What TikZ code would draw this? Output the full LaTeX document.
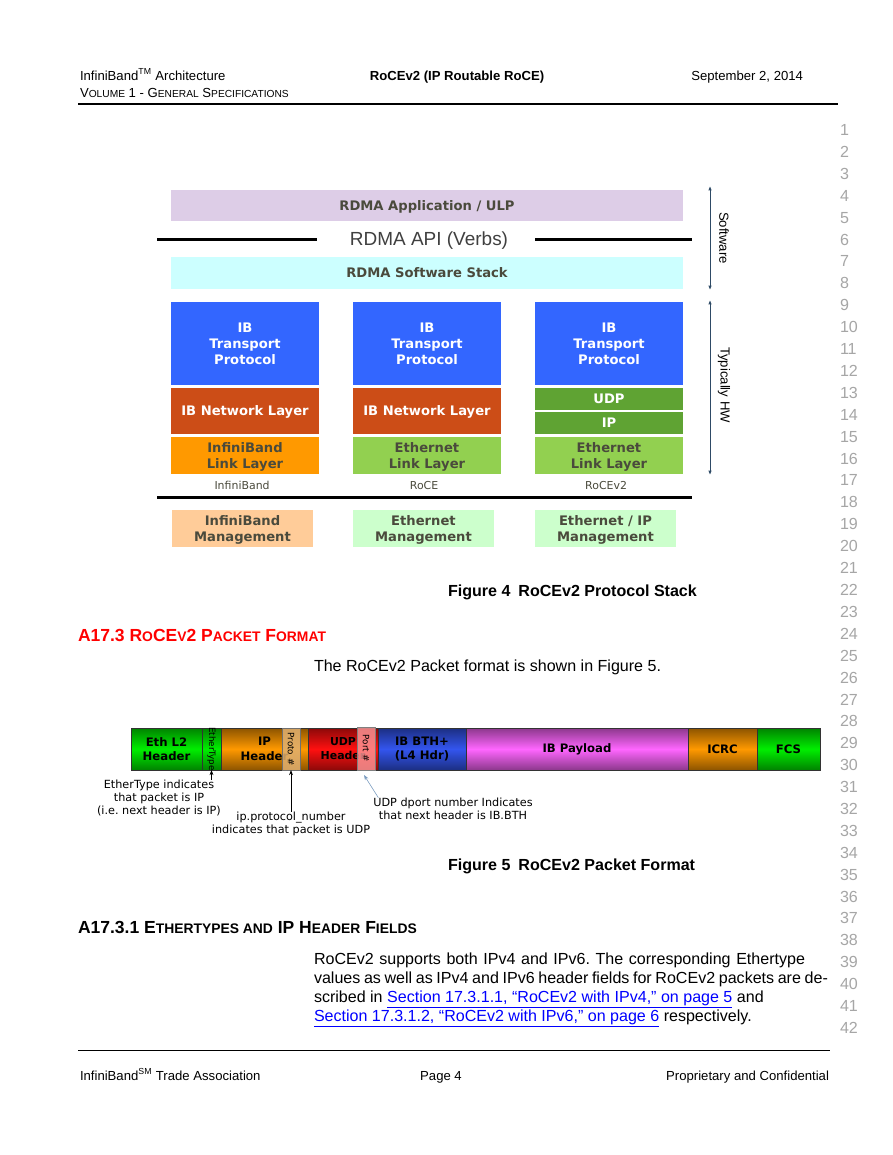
\documentclass[tikz,border=0pt]{standalone}
\usepackage{fontspec}
\setmainfont{Liberation Sans}
\newfontfamily\verdana{DejaVu Sans}
\usetikzlibrary{positioning,arrows.meta}
\frenchspacing

\newcommand\pxu{0.6853pt}
\newcommand\smc[2]{{\fontsize{#1}{#1}\selectfont #2}}

\definecolor{appviolet}{HTML}{DDCDE7}
\definecolor{swcyan}{HTML}{CCFFFF}
\definecolor{ibblue}{HTML}{3366FF}
\definecolor{netrust}{HTML}{CC4D17}
\definecolor{ipgreen}{HTML}{5FA333}
\definecolor{ethgreen}{HTML}{92D050}
\definecolor{iborange}{HTML}{FF9900}
\definecolor{mgmtpeach}{HTML}{FFCC99}
\definecolor{mgmtgreen}{HTML}{CCFFCC}
\definecolor{labelgray}{HTML}{4A4A3C}
\definecolor{apigray}{HTML}{404040}
\definecolor{spanblue}{HTML}{2E4A66}
\definecolor{fieldedge}{HTML}{333333}
\definecolor{pkgreen}{HTML}{00EE00}
\definecolor{pkorange}{HTML}{FF9900}
\definecolor{pkred}{HTML}{FF1010}
\definecolor{pkblue}{HTML}{3355EE}
\definecolor{pkmagenta}{HTML}{FF66FF}
\definecolor{prototan}{HTML}{E0B070}
\definecolor{portpink}{HTML}{FF9999}
\definecolor{udpnoteblue}{HTML}{7A9CC0}
\definecolor{lnogray}{HTML}{A6A6A6}
\definecolor{headred}{HTML}{FF0000}
\definecolor{linkblue}{HTML}{0000FF}

\begin{document}
\begin{tikzpicture}[x=\pxu, y=-\pxu,
  every node/.style={inner sep=0pt, outer sep=0pt},
  boxsize/.style 2 args={minimum width=#1*\pxu, minimum height=#2*\pxu},
  layer/.style={anchor=north west, align=center, text=labelgray, text depth=0pt,
    font=\verdana\bfseries\fontsize{9}{11}\selectfont},
  hwlayer/.style={layer, text=white},
  stacklabel/.style={font=\verdana\fontsize{7.5}{9}\selectfont, text=labelgray,
    text height=5.5pt, text depth=1.5pt},
  rulebar/.style={line width=3*\pxu},
  span/.style={draw=spanblue, line width=0.6pt,
    {Latex[length=3pt,width=2.4pt]}-{Latex[length=3pt,width=2.4pt]}},
  spanlabel/.style={rotate=-90, font=\fontsize{9}{11}\selectfont},
  field/.style 2 args={anchor=north west, draw=fieldedge, line width=0.4pt,
    boxsize={#1}{42}, align=center,
    top color=#2!55!black, bottom color=#2!55!black, middle color=#2,
    font=\verdana\bfseries\fontsize{8}{10}\selectfont},
  tag/.style={rotate=-90, font=\verdana\fontsize{6}{7}\selectfont},
  note/.style={align=center, font=\verdana\fontsize{7.7}{8.9}\selectfont},
  notearrow/.style={-{Stealth[length=3.5pt,width=2.6pt]}, line width=0.5pt},
  lineno/.style={anchor=west, text=lnogray, font=\fontsize{11}{13}\selectfont},
  pagetext/.style={anchor=base west, font=\fontsize{9}{11}\selectfont},
  body/.style={anchor=base west, font=\fontsize{11}{13}\selectfont},
  caption/.style={anchor=base west, font=\bfseries\fontsize{11}{13}\selectfont}]

\useasboundingbox (0,0) rectangle (893,1155);
\fill[white] (0,0) rectangle (893,1155);

% running header
\node[pagetext] (hdrtitle) at (80,80) {InfiniBand\textsuperscript{TM} Architecture};
\node[pagetext] (hdrvol) at (80,97) {V\smc{7}{OLUME} 1 - G\smc{7}{ENERAL} S\smc{7}{PECIFICATIONS}};
\node[pagetext, anchor=base, font=\bfseries\fontsize{9}{11}\selectfont] (hdrchap) at (457,80) {RoCEv2 (IP Routable RoCE)};
\node[pagetext, anchor=base east] (hdrdate) at (803,80) {September 2, 2014};
\draw[line width=2*\pxu] (78,104) -- (838,104);

% line numbers
\foreach \n in {1,...,42}
  \node[lineno] (line\n) at (840,{130+(\n-1)*21.9}) {\n};

% Figure 4: protocol stack
\node[layer, boxsize={512}{31}, fill=appviolet] (app) at (171,190) {RDMA Application / ULP};
\node[font=\fontsize{13}{15}\selectfont, text=apigray] (api) at (429,241) {RDMA API (Verbs)};
\draw[rulebar] (157,239) -- (317,239);
\draw[rulebar] (535,239) -- (692,239);
\node[layer, boxsize={512}{32}, fill=swcyan] (sw) at (171,257) {RDMA Software Stack};

\foreach \c/\x in {ib/171, roce/353, rocetwo/535}
  \node[hwlayer, boxsize={148}{83}, fill=ibblue] (\c-tp) at (\x,302) {IB\\Transport\\Protocol};
\node[hwlayer, boxsize={148}{46}, fill=netrust] (ib-net) at (171,388) {IB Network Layer};
\node[hwlayer, boxsize={148}{46}, fill=netrust] (roce-net) at (353,388) {IB Network Layer};
\node[hwlayer, boxsize={148}{22}, fill=ipgreen] (rocetwo-udp) at (535,388) {UDP};
\node[hwlayer, boxsize={148}{22}, fill=ipgreen] (rocetwo-ip) at (535,412) {IP};
\node[layer, boxsize={148}{37}, fill=iborange] (ib-link) at (171,437) {InfiniBand\\Link Layer};
\node[layer, boxsize={148}{37}, fill=ethgreen] (roce-link) at (353,437) {Ethernet\\Link Layer};
\node[layer, boxsize={148}{37}, fill=ethgreen] (rocetwo-link) at (535,437) {Ethernet\\Link Layer};

\node[stacklabel, below=5pt of ib-link, xshift=-2pt] (ib-name) {InfiniBand};
\node[stacklabel, below=5pt of roce-link, xshift=-2pt] (roce-name) {RoCE};
\node[stacklabel, below=5pt of rocetwo-link, xshift=-2pt] (rocetwo-name) {RoCEv2};
\draw[rulebar] (157,497) -- (692,497);

\node[layer, boxsize={141}{37}, fill=mgmtpeach] (ib-mgmt) at (172,510) {InfiniBand\\Management};
\node[layer, boxsize={141}{37}, fill=mgmtgreen] (roce-mgmt) at (353,510) {Ethernet\\Management};
\node[layer, boxsize={141}{37}, fill=mgmtgreen] (rocetwo-mgmt) at (535,510) {Ethernet / IP\\Management};

\coordinate (swtop) at (710,186);
\coordinate (swbot) at (710,290);
\draw[span] (swtop) -- (swbot);
\node[spanlabel] (swlabel) at (724,238) {Software};
\coordinate (hwtop) at (710,300);
\coordinate (hwbot) at (710,475);
\draw[span] (hwtop) -- (hwbot);
\node[spanlabel] (hwlabel) at (724,385) {Typically HW};

\node[caption] (fig4cap) at (448,596) {Figure 4\enspace RoCEv2 Protocol Stack};

% section A17.3
\node[anchor=base west, text=headred, font=\bfseries\fontsize{12}{14}\selectfont] (sec) at (78,641)
  {A17.3 R\smc{9.5}{O}CE\smc{9.5}{V}2 P\smc{9.5}{ACKET} F\smc{9.5}{ORMAT}};
\node[body] (intro) at (314,671) {The RoCEv2 Packet format is shown in Figure 5.};

% Figure 5: packet format
\node[field={71}{pkgreen}] (eth) at (131,728) {Eth L2\\Header};
\node[field={19}{pkgreen}] (ethtype) at (202,728) {};
\node[tag] (ethtypetag) at (ethtype) {EtherType};
\node[field={87}{pkorange}] (ip) at (221,728) {IP\\Header};
\node[anchor=north west, boxsize={18}{42}, fill=prototan, fill opacity=0.85, draw=fieldedge!70, line width=0.4pt] (proto) at (282,728) {};
\node[tag] (prototag) at (proto) {Proto \#};
\node[field={70}{pkred}, font=\verdana\bfseries\fontsize{7.5}{9.5}\selectfont] (udp) at (308,728) {UDP\\Header};
\node[anchor=north west, boxsize={18}{43}, fill=portpink, fill opacity=0.8, draw=gray, line width=0.5pt] (port) at (357,727) {};
\node[tag] (porttag) at (port) {Port \#};
\node[field={88}{pkblue}] (bth) at (378,728) {IB BTH+\\(L4 Hdr)};
\node[field={222}{pkmagenta}] (payload) at (466,728) {IB Payload};
\node[field={69}{pkorange}] (icrc) at (688,728) {ICRC};
\node[field={63}{pkgreen}] (fcs) at (757,728) {FCS};

\node[note] (ethnote) at (159,798) {EtherType indicates\\that packet is IP\\(i.e. next header is IP)};
\draw[notearrow] (ethnote.north -| ethtype.south) -- (ethtype.south);
\node[note] (protonote) at (291,823.5) {ip.protocol\_number\\indicates that packet is UDP};
\draw[notearrow] (protonote.north -| proto.south) -- (proto.south);
\node[note] (udpnote) at (453,808.5) {UDP dport number Indicates\\that next header is IB.BTH};
\draw[notearrow, udpnoteblue, line width=0.4pt] ([xshift=5*\pxu]udpnote.north west) -- ([shift={(-2,5)}]port.south);

\node[caption] (fig5cap) at (448,870) {Figure 5\enspace RoCEv2 Packet Format};

% section A17.3.1
\node[anchor=base west, font=\bfseries\fontsize{12}{14}\selectfont] (subsec) at (78,933)
  {A17.3.1 E\smc{9.5}{THERTYPES AND} IP H\smc{9.5}{EADER} F\smc{9.5}{IELDS}};
\node[body] (para1) at (314,964) {\makebox[336.5pt][s]{RoCEv2 supports both IPv4 and IPv6. The corresponding Ethertype}};
\node[body] (para2) at (314,983) {\makebox[352.2pt][s]{values as well as IPv4 and IPv6 header fields for RoCEv2 packets are de-}};
\node[body] (para3) at (314,1002) {scribed in \textcolor{linkblue}{\underline{Section 17.3.1.1, “RoCEv2 with IPv4,” on page 5}} and};
\node[body] (para4) at (314,1021) {\textcolor{linkblue}{\underline{Section 17.3.1.2, “RoCEv2 with IPv6,” on page 6}} respectively.};

% running footer
\draw[line width=1*\pxu] (78,1050) -- (830,1050);
\node[pagetext] (ftrorg) at (80,1080) {InfiniBand\textsuperscript{SM} Trade Association};
\node[pagetext, anchor=base] (ftrpage) at (441,1080) {Page 4};
\node[pagetext, anchor=base east] (ftrconf) at (829,1080) {Proprietary and Confidential};
\end{tikzpicture}
\end{document}
